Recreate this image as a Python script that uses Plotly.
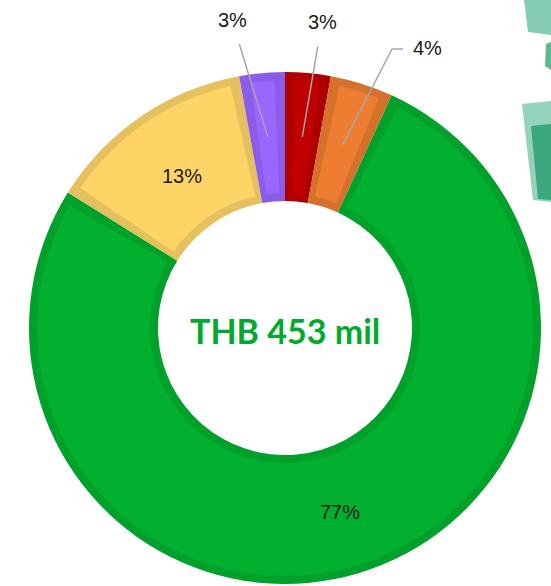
import math
import plotly.graph_objects as go

# ---- data (THB mil) ----
categories = ["Red", "Orange", "Green", "Yellow", "Purple"]
values = [13, 18, 349, 60, 13]
fill_colors = ["#C00000", "#ED7D31", "#00B02E", "#FFD466", "#9966FF"]
edge_colors = ["#AE0000", "#D6712B", "#00A12A", "#E5C05E", "#8A5CE8"]
outside_labels = ["Red", "Orange", "Purple"]

W, H = 551, 586
CX, CY = 285, 328          # pie centre (px)
R_OUT, R_IN = 256, 127     # outer ring (edge colour)
BORDER = 8                 # inset border thickness (px)
LABEL_FONT = dict(family="Liberation Sans, Arial", size=20, color="#1a1a1a")

total = sum(values)


def px(x):
    return x / W


def py(y):
    return 1 - y / H


def domain(r):
    return dict(x=[px(CX - r), px(CX + r)], y=[py(CY + r), py(CY - r)])


fig = go.Figure()

# outer ring: border colour
fig.add_trace(go.Pie(
    labels=categories, values=values, sort=False, direction="clockwise",
    rotation=0, hole=R_IN / R_OUT, domain=domain(R_OUT),
    marker=dict(colors=edge_colors, line=dict(width=0)),
    textinfo="none", hoverinfo="skip", showlegend=False,
))

# inner lighter fill, inset by BORDER on all sides
r2_out, r2_in = R_OUT - BORDER, R_IN + BORDER
gap = BORDER / ((r2_out + r2_in) / 2) * 180 / math.pi / 360 * total
vals2, cols2, labs2 = [], [], []
for c, v, col in zip(categories, values, fill_colors):
    vals2 += [gap, v - 2 * gap, gap]
    cols2 += ["rgba(0,0,0,0)", col, "rgba(0,0,0,0)"]
    labs2 += [c + "_a", c, c + "_b"]

fig.add_trace(go.Pie(
    labels=labs2, values=vals2, sort=False, direction="clockwise",
    rotation=0, hole=r2_in / r2_out, domain=domain(r2_out),
    marker=dict(colors=cols2, line=dict(width=0)),
    textinfo="none", hoverinfo="skip", showlegend=False,
))

# percentage labels
label_pos = {"Purple": (232, 20), "Red": (322, 22), "Orange": (427, 48)}
inside_r = {"Green": 192, "Yellow": 184}
cum = 0
for c, v in zip(categories, values):
    mid = (cum + v / 2) / total * 2 * math.pi
    cum += v
    txt = f"{round(v / total * 100)}%"
    if c not in outside_labels:
        r = inside_r[c]
        fig.add_annotation(x=px(CX + r * math.sin(mid)), y=py(CY - r * math.cos(mid)),
                           xref="paper", yref="paper", text=txt, showarrow=False,
                           xanchor="center", yanchor="middle", font=LABEL_FONT)
        continue
    hx = CX + 192 * math.sin(mid)
    hy = CY - 192 * math.cos(mid)
    tx, ty = label_pos[c]
    if c == "Orange":
        fig.add_shape(type="path", xref="paper", yref="paper",
                      path=f"M {px(hx)} {py(hy)} L {px(392)} {py(49)} L {px(403)} {py(49)}",
                      line=dict(color="#A6A6A6", width=1.5))
        fig.add_annotation(x=px(tx), y=py(ty), xref="paper", yref="paper",
                           text=txt, showarrow=False, xanchor="center",
                           yanchor="middle", font=LABEL_FONT)
    else:
        fig.add_annotation(x=px(hx), y=py(hy), xref="paper", yref="paper",
                           ax=tx - hx, ay=ty - hy, axref="pixel", ayref="pixel",
                           text=txt, showarrow=True, arrowhead=0, arrowwidth=1.5,
                           arrowcolor="#A6A6A6", startstandoff=12, font=LABEL_FONT)

# centre text
fig.add_annotation(x=px(CX), y=py(330), xref="paper", yref="paper",
                   text=f"<b>THB {total} mil</b>", showarrow=False,
                   xanchor="center", yanchor="middle",
                   font=dict(family="Lato", size=34, color="#00AA2C"))

# decorative background blocks (top-right)
deco = [
    ([(524, 0), (551, 0), (551, 35), (528, 32)], "#86CDB5"),
    ([(546, 44), (551, 42), (551, 70), (545, 66)], "#5BB892"),
    ([(522, 104), (551, 101), (551, 202), (533, 200)], "#93D3BD"),
    ([(531, 126), (551, 124), (551, 200), (538, 199)], "#3DA87F"),
]
for pts, col in deco:
    path = "M " + " L ".join(f"{px(x)} {py(y)}" for x, y in pts) + " Z"
    fig.add_shape(type="path", xref="paper", yref="paper", path=path,
                  fillcolor=col, line=dict(width=0), layer="below")

fig.update_layout(
    width=W, height=H, margin=dict(l=0, r=0, t=0, b=0),
    paper_bgcolor="white", plot_bgcolor="white",
)

fig.write_html(
    "out.html",
    config={"displayModeBar": False},
    post_script="document.body.style.margin='0';document.body.style.overflow='hidden';",
)
